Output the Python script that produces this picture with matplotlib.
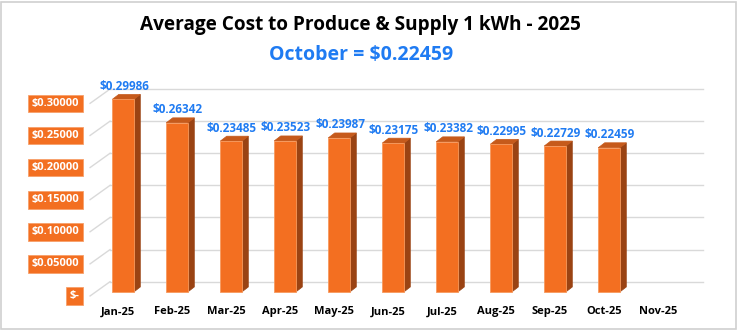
import numpy as np
import matplotlib.pyplot as plt
from matplotlib.patches import Polygon, Rectangle

plt.rcParams['font.family'] = ['Open Sans', 'DejaVu Sans']

months = ['Jan-25', 'Feb-25', 'Mar-25', 'Apr-25', 'May-25', 'Jun-25',
          'Jul-25', 'Aug-25', 'Sep-25', 'Oct-25', 'Nov-25']
costs = [0.29986, 0.26342, 0.23485, 0.23523, 0.23987, 0.23175,
         0.23382, 0.22995, 0.22729, 0.22459, None]
yticks = [0.0, 0.05, 0.10, 0.15, 0.20, 0.25, 0.30]
ytick_labels = ['$-', '$0.05000', '$0.10000', '$0.15000', '$0.20000',
                '$0.25000', '$0.30000']

orange = '#F36F21'
side = '#9A4313'
top = '#C65A1B'
blue = '#1F7BF2'
grid = '#d9d9d9'

fig = plt.figure(figsize=(7.41, 3.30), dpi=100)
# px -> data: x = (px-123)/54 ; v = (292-py)/642
ax = fig.add_axes([74.4 / 741, (330 - 298.4) / 330, (706.2 - 74.4) / 741, (298.4 - 80.1) / 330])
ax.set_xlim(-0.9, 10.8)
ax.set_ylim(-0.01, 0.33)
ax.axis('off')

px = 1 / 54.0
pv = 1 / 642.0

# back wall gridlines with floor diagonals
for v, lab in zip(yticks, ytick_labels):
    vb = v + 10.3 * pv
    vf = v - 4 * pv
    ax.plot([-0.24, 10.74], [vb, vb], color=grid, lw=1, zorder=1, clip_on=False)
    ax.plot([-0.61, -0.24], [vf, vb], color=grid, lw=1, zorder=1, clip_on=False)
    ax.text(-0.81, vf, lab, ha='right', va='center', fontsize=8, fontweight='bold',
            color='white', clip_on=False,
            bbox=dict(boxstyle='square,pad=0.3', fc=orange, ec='#f7a06a', lw=0.6))

w = 0.2
dx = 6.5 * px
dy = 5 * pv
for i, (m, c) in enumerate(zip(months, costs)):
    ax.text(i - 5 * px, -20 * pv, m, ha='center', va='center', fontsize=8,
            fontweight='bold', color='black', clip_on=False)
    if c is None:
        continue
    ax.add_patch(Polygon([[i + w, 0], [i + w + dx, dy], [i + w + dx, c + dy], [i + w, c]],
                         closed=True, fc=side, ec=side, lw=0.5, zorder=3))
    ax.add_patch(Polygon([[i - w, c], [i + w, c], [i + w + dx, c + dy], [i - w + dx, c + dy]],
                         closed=True, fc=top, ec=top, lw=0.5, zorder=3))
    ax.bar(i, c, width=2 * w, color=orange, edgecolor='#f79a5e', lw=0.6, zorder=4)
    ax.text(i + 1 * px, c + 13 * pv, '$%.5f' % c, ha='center', va='center', fontsize=8.5,
            fontweight='bold', color=blue, clip_on=False)

fig.text(360 / 741, 1 - 25 / 330, 'Average Cost to Produce & Supply 1 kWh - 2025',
         ha='center', va='center', fontsize=13.7, fontweight='bold', color='black')
fig.text(361 / 741, 1 - 55 / 330, 'October = $0.22459',
         ha='center', va='center', fontsize=14, fontweight='bold', color=blue)

fig.patches.append(Rectangle((1 / 741, 1 / 330), 735 / 741, 327 / 330, transform=fig.transFigure,
                             fill=False, ec='#d0d0d0', lw=1.2))

plt.savefig('out.png', dpi=100)
